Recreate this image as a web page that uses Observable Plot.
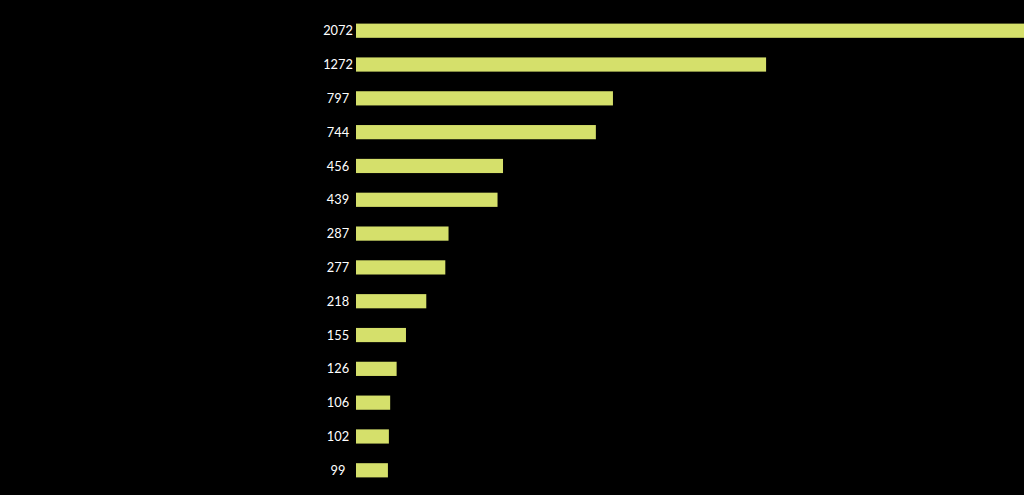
<!DOCTYPE html>
<html>
<head>
<meta charset="utf-8">
<script src="https://cdn.jsdelivr.net/npm/d3@7"></script>
<script src="https://cdn.jsdelivr.net/npm/@observablehq/plot@0.6"></script>
<style>
  html, body { margin: 0; padding: 0; background: #000; }
  #chart svg { display: block; }
</style>
</head>
<body>
<div id="chart"></div>
<script>
const categories = ["1","2","3","4","5","6","7","8","9","10","11","12","13","14"];
const values = [2072, 1272, 797, 744, 456, 439, 287, 277, 218, 155, 126, 106, 102, 99];

const data = categories.map((c, i) => ({category: c, value: values[i]}));

const chart = Plot.plot({
  width: 1024,
  height: 495,
  marginLeft: 356,
  marginRight: 0,
  marginTop: 0,
  marginBottom: 0,
  style: {background: "#000", color: "#fff", fontFamily: "Lato, 'Open Sans', sans-serif", fontSize: "13px"},
  x: {domain: [0, 2072], range: [356, 1024], axis: null},
  y: {domain: categories, range: [4, 497], padding: 0.58, round: false, axis: null},
  marks: [
    Plot.barX(data, {x: "value", y: "category", fill: "#d5e06b"}),
    Plot.text(data, {x: 0, y: "category", text: d => String(d.value), textAnchor: "middle", dx: -18.5, fill: "#fff", fontSize: 12.8})
  ]
});
document.getElementById("chart").appendChild(chart);
</script>
</body>
</html>
